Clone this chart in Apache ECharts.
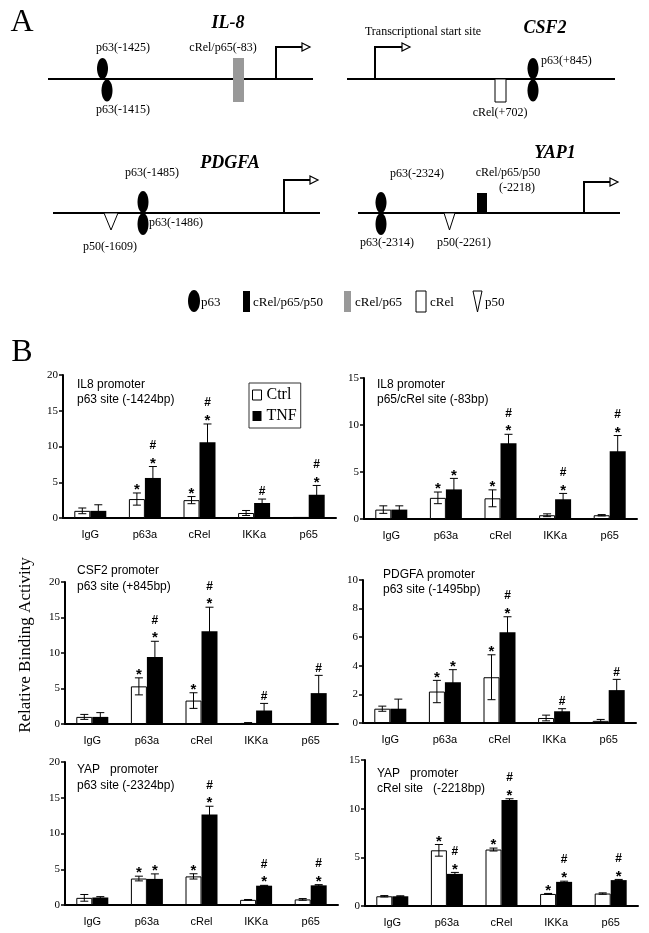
<!DOCTYPE html>
<html><head><meta charset="utf-8">
<script src="https://cdn.jsdelivr.net/npm/echarts@6/dist/echarts.min.js"></script>
<style>html,body{margin:0;padding:0;background:#fff}#c{width:649px;height:933px}</style>
</head><body><div id="c"></div>
<script>
// ---------- DATA ----------
const categories = ['IgG', 'p63a', 'cRel', 'IKKa', 'p65'];

const il8p63Ctrl = [1.0, 2.65, 2.5, 0.7, 0.15];
const il8p63CtrlErr = [0.4, 0.85, 0.5, 0.35, 0];
const il8p63Tnf = [1.0, 5.6, 10.6, 2.1, 3.25];
const il8p63TnfErr = [0.85, 1.6, 2.55, 0.55, 1.3];
const il8p63CtrlMark = ['', '*', '*', '', ''];
const il8p63TnfMark = ['', '#*', '#*', '#', '#*'];

const il8p65Ctrl = [1.0, 2.25, 2.2, 0.4, 0.4];
const il8p65CtrlErr = [0.4, 0.62, 0.9, 0.15, 0.07];
const il8p65Tnf = [1.0, 3.15, 8.05, 2.1, 7.2];
const il8p65TnfErr = [0.4, 1.17, 0.96, 0.62, 1.68];
const il8p65CtrlMark = ['', '*', '*', '', ''];
const il8p65TnfMark = ['', '*', '#*', '#*', '#*'];

const csf2Ctrl = [1.0, 5.3, 3.3, 0.15, 0];
const csf2CtrlErr = [0.35, 1.2, 1.1, 0.05, 0];
const csf2Tnf = [1.0, 9.45, 13.05, 1.9, 4.35];
const csf2TnfErr = [0.6, 2.2, 3.4, 1.0, 2.5];
const csf2CtrlMark = ['', '*', '*', '', ''];
const csf2TnfMark = ['', '#*', '#*', '#', '#'];

const pdgfaCtrl = [1.0, 2.2, 3.2, 0.35, 0.15];
const pdgfaCtrlErr = [0.18, 0.78, 1.57, 0.2, 0.1];
const pdgfaTnf = [1.0, 2.85, 6.35, 0.82, 2.3];
const pdgfaTnfErr = [0.67, 0.88, 1.08, 0.18, 0.75];
const pdgfaCtrlMark = ['', '*', '*', '', ''];
const pdgfaTnfMark = ['', '*', '#*', '#', '#'];

const yapP63Ctrl = [1.0, 3.7, 4.0, 0.72, 0.78];
const yapP63CtrlErr = [0.47, 0.33, 0.37, 0.05, 0.12];
const yapP63Tnf = [1.05, 3.65, 12.65, 2.7, 2.75];
const yapP63TnfErr = [0.12, 0.7, 1.16, 0.05, 0.1];
const yapP63CtrlMark = ['', '*', '*', '', ''];
const yapP63TnfMark = ['', '*', '#*', '#*', '#*'];

const yapRelCtrl = [1.0, 5.72, 5.8, 1.24, 1.28];
const yapRelCtrlErr = [0.07, 0.6, 0.15, 0.05, 0.07];
const yapRelTnf = [1.0, 3.3, 10.9, 2.48, 2.66];
const yapRelTnfErr = [0.05, 0.15, 0.12, 0.07, 0.07];
const yapRelCtrlMark = ['', '*', '*', '*', ''];
const yapRelTnfMark = ['', '#*', '#*', '#*', '#*'];

const titles = [
  'IL8 promoter\np63 site (-1424bp)',
  'IL8 promoter\np65/cRel site (-83bp)',
  'CSF2 promoter\np63 site (+845bp)',
  'PDGFA promoter\np63 site (-1495bp)',
  'YAP   promoter\np63 site (-2324bp)',
  'YAP   promoter\ncRel site   (-2218bp)'
];
const yMax = [20, 15, 20, 10, 20, 15];
const yInterval = [5, 5, 5, 2, 5, 5];

// ---------- LAYOUT ----------
const panels = [
  {ctrl: il8p63Ctrl, ce: il8p63CtrlErr, tnf: il8p63Tnf, te: il8p63TnfErr, cm: il8p63CtrlMark, tm: il8p63TnfMark},
  {ctrl: il8p65Ctrl, ce: il8p65CtrlErr, tnf: il8p65Tnf, te: il8p65TnfErr, cm: il8p65CtrlMark, tm: il8p65TnfMark},
  {ctrl: csf2Ctrl, ce: csf2CtrlErr, tnf: csf2Tnf, te: csf2TnfErr, cm: csf2CtrlMark, tm: csf2TnfMark},
  {ctrl: pdgfaCtrl, ce: pdgfaCtrlErr, tnf: pdgfaTnf, te: pdgfaTnfErr, cm: pdgfaCtrlMark, tm: pdgfaTnfMark},
  {ctrl: yapP63Ctrl, ce: yapP63CtrlErr, tnf: yapP63Tnf, te: yapP63TnfErr, cm: yapP63CtrlMark, tm: yapP63TnfMark},
  {ctrl: yapRelCtrl, ce: yapRelCtrlErr, tnf: yapRelTnf, te: yapRelTnfErr, cm: yapRelCtrlMark, tm: yapRelTnfMark}
];
const grids = [
  {left: 63, top: 375, width: 273, height: 143},
  {left: 364, top: 378, width: 273, height: 141},
  {left: 65, top: 582, width: 273, height: 142},
  {left: 363, top: 580, width: 273, height: 143},
  {left: 65, top: 762, width: 273, height: 143},
  {left: 365, top: 760, width: 273, height: 146}
];
const titlePos = [
  {left: 77, top: 377, lh: 15},
  {left: 377, top: 377, lh: 15},
  {left: 77, top: 563, lh: 16},
  {left: 383, top: 567, lh: 15},
  {left: 77, top: 762, lh: 16},
  {left: 377, top: 766, lh: 15}
];
const SERIF = '"Liberation Serif", "DejaVu Serif", serif';
const SANS = '"Liberation Sans", Arial, sans-serif';
const BAR_W = 16;

function errSeries(gi, vals, errs, marks, side) {
  return {
    type: 'custom', xAxisIndex: gi, yAxisIndex: gi, z: 5, silent: true, clip: false,
    data: vals.map((v, i) => [i, v, errs[i]]),
    renderItem: function (params, api) {
      const i = params.dataIndex;
      const cx = api.value(0), v = api.value(1), e = api.value(2);
      const c = api.coord([cx, v]);
      const x = c[0] + side * BAR_W / 2;
      const top = api.coord([cx, v + e])[1];
      const bot = api.coord([cx, v - e])[1];
      const children = [];
      const ls = {stroke: '#000', lineWidth: 1};
      if (e > 0) {
        children.push({type: 'line', shape: {x1: x, y1: top, x2: x, y2: bot}, style: ls});
        children.push({type: 'line', shape: {x1: x - 4, y1: top, x2: x + 4, y2: top}, style: ls});
        children.push({type: 'line', shape: {x1: x - 4, y1: bot, x2: x + 4, y2: bot}, style: ls});
      }
      const mk = marks[i];
      let y = Math.min(top, c[1]) - 7;
      if (mk.indexOf('*') >= 0) {
        children.push({type: 'text', style: {text: '*', x: x, y: y + 4, fill: '#000',
          font: 'bold 15px ' + SANS, textAlign: 'center', textVerticalAlign: 'middle'}});
        y -= 14;
      }
      if (mk.indexOf('#') >= 0) {
        children.push({type: 'text', style: {text: '#', x: x, y: y, fill: '#000',
          font: 'bold 12px ' + SANS, textAlign: 'center', textVerticalAlign: 'middle'}});
      }
      return {type: 'group', children: children};
    }
  };
}

const xAxes = [], yAxes = [], series = [], titleArr = [];
grids.forEach((g, gi) => {
  xAxes.push({
    type: 'category', gridIndex: gi, data: categories,
    axisLine: {lineStyle: {color: '#000', width: 2}},
    axisTick: {length: 4, lineStyle: {color: '#000', width: 1.5}},
    axisLabel: {color: '#000', fontFamily: SANS, fontSize: 11, margin: 11}
  });
  yAxes.push({
    type: 'value', gridIndex: gi, min: 0, max: yMax[gi], interval: yInterval[gi],
    axisLine: {show: true, lineStyle: {color: '#000', width: 2}},
    axisTick: {show: true, length: 4, lineStyle: {color: '#000', width: 1.5}},
    axisLabel: {color: '#000', fontFamily: SERIF, fontSize: 11, margin: 5},
    splitLine: {show: false}
  });
  const p = panels[gi];
  series.push({
    name: 'Ctrl', type: 'bar', xAxisIndex: gi, yAxisIndex: gi, data: p.ctrl,
    barWidth: BAR_W, barGap: '0%',
    itemStyle: {color: '#fff', borderColor: '#000', borderWidth: 1}
  });
  series.push({
    name: 'TNF', type: 'bar', xAxisIndex: gi, yAxisIndex: gi, data: p.tnf,
    barWidth: BAR_W, barGap: '0%',
    itemStyle: {color: '#000'}
  });
  series.push(errSeries(gi, p.ctrl, p.ce, p.cm, -1));
  series.push(errSeries(gi, p.tnf, p.te, p.tm, 1));
  const tp = titlePos[gi];
  titleArr.push({
    text: titles[gi], left: tp.left, top: tp.top, padding: 0,
    textStyle: {fontFamily: SANS, fontSize: 12, fontWeight: 'normal', color: '#000', lineHeight: tp.lh}
  });
});

// ---------- PANEL A (schematic) ----------
const G = [];
function txt(x, y, s, font, align) {
  G.push({type: 'text', silent: true, style: {text: s, x: x, y: y, fill: '#000', font: font,
    textAlign: align || 'center', textVerticalAlign: 'middle'}});
}
function hline(x1, x2, y) {
  G.push({type: 'line', silent: true, shape: {x1: x1, y1: y, x2: x2, y2: y}, style: {stroke: '#000', lineWidth: 2}});
}
function ell(cx, cy, rx, ry) {
  G.push({type: 'ellipse', silent: true, shape: {cx: cx, cy: cy, rx: rx, ry: ry}, style: {fill: '#000'}});
}
function box(x, y, w, h, fill, stroke) {
  G.push({type: 'rect', silent: true, shape: {x: x, y: y, width: w, height: h},
    style: {fill: fill, stroke: stroke || null, lineWidth: stroke ? 1 : 0}});
}
function tri(x1, x2, y, apexY) {
  G.push({type: 'polygon', silent: true, shape: {points: [[x1, y], [x2, y], [(x1 + x2) / 2, apexY]]},
    style: {fill: '#fff', stroke: '#000', lineWidth: 1}});
}
function tss(x, baseY, topY, endX) {
  G.push({type: 'polyline', silent: true, shape: {points: [[x, baseY], [x, topY], [endX, topY]]},
    style: {stroke: '#000', lineWidth: 2, fill: null}});
  G.push({type: 'polygon', silent: true, shape: {points: [[endX, topY - 4], [endX + 8, topY], [endX, topY + 4]]},
    style: {fill: '#fff', stroke: '#000', lineWidth: 1.2}});
}
const LF = '12px ' + SERIF;
const GF = 'bold italic 18px ' + SERIF;

txt(22, 23, 'A', '32px ' + SERIF);
// IL-8
txt(228, 23, 'IL-8', GF);
hline(48, 313, 79);
ell(102.5, 68.5, 5.5, 10.5); ell(107, 90.5, 5.5, 11);
txt(123, 48, 'p63(-1425)', LF); txt(123, 110, 'p63(-1415)', LF);
box(233, 58, 11, 44, '#999');
txt(223, 48, 'cRel/p65(-83)', LF);
tss(276, 79, 47, 302);
// CSF2
txt(423, 32, 'Transcriptional start site', LF);
txt(545, 28, 'CSF2', GF);
hline(347, 615, 79);
tss(375, 79, 47, 402);
box(495, 79, 11, 23, '#fff', '#000');
txt(500, 113, 'cRel(+702)', LF);
ell(533, 68.5, 5.5, 10.5); ell(533, 90.5, 5.5, 11);
txt(541, 61, 'p63(+845)', LF, 'left');
// PDGFA
txt(230, 163, 'PDGFA', GF);
hline(53, 320, 213);
tss(284, 213, 180, 310);
tri(104, 118, 213, 230);
txt(110, 247, 'p50(-1609)', LF);
ell(143, 202, 5.5, 11); ell(143, 224, 5.5, 11);
txt(152, 173, 'p63(-1485)', LF);
txt(149, 223, 'p63(-1486)', LF, 'left');
// YAP1
txt(555, 153, 'YAP1', GF);
hline(358, 620, 213);
tss(584, 213, 182, 610);
ell(381, 202.5, 5.5, 10.5); ell(381, 224, 5.5, 11);
txt(417, 174, 'p63(-2324)', LF); txt(387, 243, 'p63(-2314)', LF);
tri(444, 455, 213, 230);
txt(464, 243, 'p50(-2261)', LF);
box(477, 193, 10, 20, '#000');
txt(508, 173, 'cRel/p65/p50', LF); txt(517, 188, '(-2218)', LF);
// symbol legend
const KF = '13px ' + SERIF;
ell(194, 301, 6, 11); txt(201, 303, 'p63', KF, 'left');
box(243, 291, 7, 21, '#000'); txt(253, 303, 'cRel/p65/p50', KF, 'left');
box(344, 291, 7, 21, '#999'); txt(355, 303, 'cRel/p65', KF, 'left');
box(416, 291, 10, 21, '#fff', '#000'); txt(430, 303, 'cRel', KF, 'left');
tri(473, 482, 291, 312); txt(485, 303, 'p50', KF, 'left');
// panel B
txt(22, 353, 'B', '32px ' + SERIF);
G.push({type: 'text', silent: true, x: 26, y: 645, rotation: Math.PI / 2,
  style: {text: 'Relative Binding Activity', x: 0, y: 0, fill: '#000', font: '17px ' + SERIF,
    textAlign: 'center', textVerticalAlign: 'middle'}});

const chart = echarts.init(document.getElementById('c'), null, {renderer: 'canvas'});
chart.setOption({
  animation: false,
  backgroundColor: '#fff',
  title: titleArr,
  legend: {
    left: 249, top: 383, orient: 'vertical', itemGap: 5, itemWidth: 9, itemHeight: 10,
    padding: [4, 4, 4, 3], borderColor: '#333', borderWidth: 1,
    textStyle: {fontFamily: SERIF, fontSize: 16, color: '#000'},
    data: [
      {name: 'Ctrl', icon: 'rect', itemStyle: {color: '#fff', borderColor: '#000', borderWidth: 1}},
      {name: 'TNF', icon: 'rect', itemStyle: {color: '#000'}}
    ],
    selectedMode: false
  },
  grid: grids,
  xAxis: xAxes,
  yAxis: yAxes,
  series: series,
  graphic: {elements: G}
});
</script>
</body></html>
